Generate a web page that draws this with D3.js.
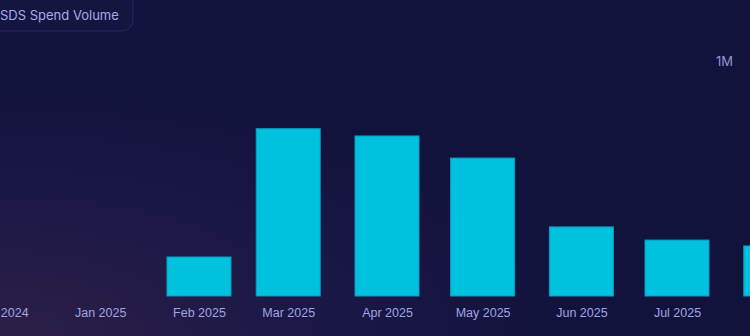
<!DOCTYPE html>
<html>
<head>
<meta charset="utf-8">
<script src="https://cdn.jsdelivr.net/npm/d3@7"></script>
<style>
  html, body { margin: 0; padding: 0; background: #12133d; }
  svg { display: block; }
  .x-axis text { font-family: "Liberation Sans", Arial, sans-serif; font-size: 12.5px; fill: #a0a4e0; }
  .y-axis text { font-family: "Inter", sans-serif; font-size: 13px; fill: #9296d6; }
</style>
</head>
<body>
<div class="chart"></div>
<script>
// months shown on the axis (first day of each month)
const months = ["2024-12-01", "2025-01-01", "2025-02-01", "2025-03-01", "2025-04-01", "2025-05-01", "2025-06-01", "2025-07-01", "2025-08-01"];
// spend volume per month
const spend = [0, 0, 166000, 712000, 681000, 587000, 294000, 238000, 213000];
// labelled months (Aug label falls outside the view)
const tickMonths = ["2024-12-01", "2025-01-01", "2025-02-01", "2025-03-01", "2025-04-01", "2025-05-01", "2025-06-01", "2025-07-01"];
const yTicks = [1000000];
const yTickLabels = ["1M"];

const width = 750, height = 336;
const parse = d3.timeParse("%Y-%m-%d");

const data = months.map((m, i) => ({ date: parse(m), value: spend[i] }));

const svg = d3.select(".chart").append("svg")
    .attr("width", width)
    .attr("height", height);

// background
const defs = svg.append("defs");
const glow = defs.append("radialGradient")
    .attr("id", "glow")
    .attr("cx", "0%").attr("cy", "100%").attr("r", "75%");
glow.append("stop").attr("offset", "0%").attr("stop-color", "#2c1f47");
glow.append("stop").attr("offset", "55%").attr("stop-color", "#1b1846");
glow.append("stop").attr("offset", "100%").attr("stop-color", "#12133d");

svg.append("rect")
    .attr("width", width).attr("height", height)
    .attr("fill", "url(#glow)");

// title pill (cut off at the left edge)
svg.append("rect")
    .attr("x", -20).attr("y", -12)
    .attr("width", 153).attr("height", 43)
    .attr("rx", 11)
    .attr("fill", "#15163f")
    .attr("stroke", "#272a66")
    .attr("stroke-width", 1);

svg.append("text")
    .attr("x", 0)
    .attr("y", 20)
    .style("font-family", "Inter, sans-serif")
    .style("font-size", "13px")
    .style("fill", "#a7aaea")
    .text("SDS Spend Volume");

const xScale = d3.scaleTime()
    .domain([parse("2024-12-01"), parse("2025-08-01")])
    .range([1.4, 775.8]);

const yScale = d3.scaleLinear()
    .domain([0, 1000000])
    .range([296, 61]);

const barW = 64;

svg.selectAll("rect.bar")
    .data(data.filter(d => d.value > 0))
    .enter()
    .append("rect")
        .attr("class", "bar")
        .attr("x", d => xScale(d.date) - barW / 2)
        .attr("y", d => yScale(d.value))
        .attr("width", barW)
        .attr("height", d => yScale(0) - yScale(d.value))
        .style("fill", "#00c1de")
        .style("stroke", "#0a9cc0")
        .style("stroke-width", 1);

const xAxis = d3.axisBottom(xScale)
    .tickValues(tickMonths.map(parse))
    .tickFormat(d3.timeFormat("%b %Y"))
    .tickSize(0)
    .tickPadding(9);

svg.append("g")
    .attr("class", "axis x-axis")
    .attr("transform", "translate(0,299)")
    .call(xAxis)
    .call(g => g.select(".domain").remove());

const yAxis = d3.axisLeft(yScale)
    .tickValues(yTicks)
    .tickFormat((d, i) => yTickLabels[i])
    .tickSize(0)
    .tickPadding(4);

svg.append("g")
    .attr("class", "axis y-axis")
    .attr("transform", "translate(737,0)")
    .call(yAxis)
    .call(g => g.select(".domain").remove());
</script>
</body>
</html>
